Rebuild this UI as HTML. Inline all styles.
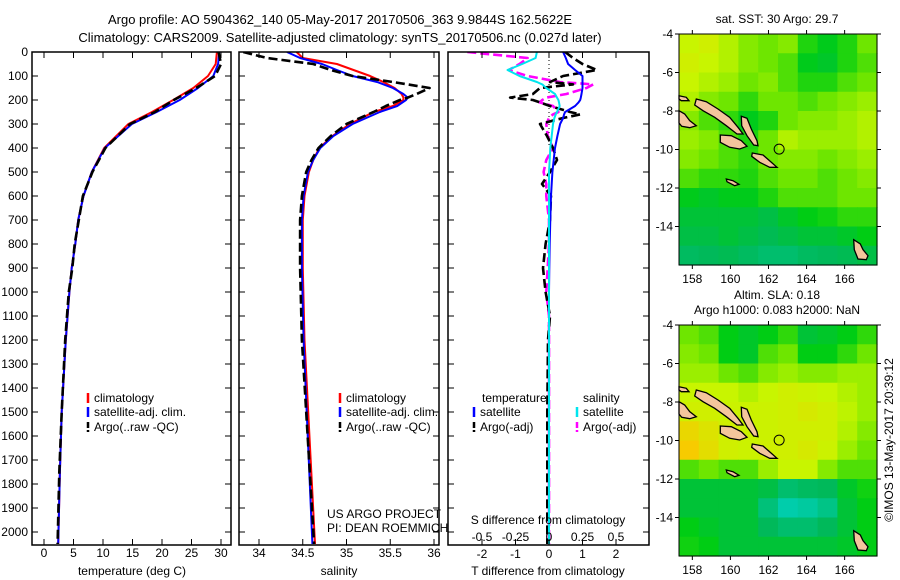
<!DOCTYPE html>
<html><head><meta charset="utf-8"><style>
body{margin:0;background:#fff}
svg{display:block;font-family:"Liberation Sans",sans-serif}
text{font-size:12px;fill:#000}
</style></head><body>
<svg id="fig" width="900" height="580" viewBox="0 0 900 580">
<text x="340" y="24" text-anchor="middle" style="font-size:13px">Argo profile: AO 5904362_140 05-May-2017 20170506_363 9.9844S 162.5622E</text>
<text x="340" y="42" text-anchor="middle" style="font-size:13px">Climatology: CARS2009. Satellite-adjusted climatology: synTS_20170506.nc (0.027d later)</text>
<g id="g1"></g>
<g id="g2"></g>
<g id="g3"></g>
<g id="m1"></g>
<g id="m2"></g>
<text transform="translate(893,440) rotate(-90)" text-anchor="middle">©IMOS 13-May-2017 20:39:12</text>
</svg>
<script>
// ---- data ----
const depthTicks=[0,100,200,300,400,500,600,700,800,900,1000,1100,1200,1300,1400,1500,1600,1700,1800,1900,2000];
const tempTicks=[0,5,10,15,20,25,30];
const salTicks=[34,34.5,35,35.5,36];
const tdTicks=[-2,-1,0,1,2];
const sdTicks=[-0.5,-0.25,0,0.25,0.5];
const tDepth=[0,50,100,150,200,250,300,400,500,600,700,800,900,1000,1200,1500,1750,2050];
const tClim=[29.3,29.1,27.8,25.3,21.9,18.3,14.3,10.2,8.1,6.7,5.8,5.3,4.7,4.3,3.7,3.0,2.7,2.4];
const tSat=[29.7,29.5,28.7,26.1,23.0,19.1,14.9,10.3,8.1,6.7,5.8,5.3,4.7,4.3,3.7,3.0,2.7,2.4];
const tArgo=[29.6,30.0,29.0,25.8,22.0,18.8,14.6,10.4,8.2,6.6,5.9,5.2,4.8,4.2,3.6,3.0,2.6,2.3];
const sDepth=[0,25,50,75,100,125,150,175,190,200,225,250,300,350,400,450,500,600,700,900,1200,2050];
const sClim=[34.43,34.5,34.89,35.08,35.27,35.42,35.55,35.63,35.65,35.65,35.53,35.31,35.04,34.84,34.69,34.62,34.57,34.52,34.5,34.5,34.52,34.64];
const sSat=[34.32,34.47,34.72,34.89,35.07,35.35,35.53,35.65,35.7,35.68,35.58,35.38,35.07,34.85,34.7,34.62,34.56,34.51,34.49,34.49,34.51,34.61];
const sArgo=[33.82,34.09,34.62,34.82,35.07,35.53,35.95,35.8,35.7,35.61,35.45,35.31,35.0,34.82,34.68,34.6,34.54,34.49,34.47,34.47,34.49,34.63];
const dDepth=[0,25,50,75,100,125,135,150,175,190,200,210,225,250,260,275,300,350,400,450,500,550,600,700,800,900,1000,1100,1200,1500,2050];
const dTSat=[0.42,0.5,0.57,0.78,1.0,1.0,1.0,1.0,0.97,0.95,0.93,0.88,0.78,0.48,0.45,0.42,0.33,0.25,0.18,0.14,0.1,0.08,0.06,0.04,0.02,0.01,0,0,0,0,0];
const dTArgo=[0.48,0.72,1.0,1.43,0.42,0.03,0.72,-0.27,-0.48,-1.16,-0.48,-0.27,0.03,0.63,0.93,0.42,-0.27,-0.06,0.12,0.24,0.03,-0.21,0.06,0.03,-0.1,-0.18,-0.1,0.03,-0.03,-0.05,-0.05];
const dSSat=[-0.09,-0.1,-0.2,-0.31,-0.22,-0.09,-0.05,-0.02,0.045,0.06,0.07,0.075,0.08,0.06,0.05,0.04,0.03,0.02,0.01,0.005,0,0,0,0,0,0,0,0,0,0,0];
const dSArgo=[-0.61,-0.16,-0.22,-0.3,-0.16,0.08,0.33,0.28,0.13,-0.02,-0.05,-0.07,0.03,0.07,0.03,0,-0.02,-0.01,0.03,-0.02,-0.04,-0.02,-0.02,0,0,-0.01,-0.02,0,0,0,0];
const lonTicks=[158,160,162,164,166];
const latTicks=[-4,-6,-8,-10,-12,-14];
const sstGrid=[
[.7,.72,.68,.64,.62,.64,.57,.54,.57,.62],
[.72,.7,.68,.64,.62,.6,.54,.52,.57,.6],
[.7,.68,.66,.62,.64,.6,.57,.57,.6,.62],
[.68,.64,.62,.58,.62,.62,.6,.62,.64,.66],
[.64,.6,.58,.54,.57,.62,.64,.64,.66,.68],
[.66,.64,.6,.57,.62,.68,.66,.66,.66,.68],
[.64,.62,.6,.58,.62,.64,.64,.62,.64,.66],
[.6,.58,.58,.57,.6,.62,.62,.6,.62,.64],
[.54,.52,.54,.54,.57,.6,.6,.6,.62,.62],
[.5,.5,.5,.5,.48,.52,.55,.56,.58,.58],
[.48,.48,.5,.48,.46,.48,.5,.5,.52,.55],
[.44,.45,.46,.44,.42,.42,.44,.45,.46,.48]];
const slaGrid=[
[.62,.6,.55,.52,.55,.58,.5,.52,.55,.58],
[.64,.62,.55,.52,.6,.62,.55,.55,.58,.62],
[.66,.66,.62,.6,.64,.66,.64,.64,.66,.66],
[.7,.7,.7,.68,.7,.72,.71,.7,.68,.66],
[.72,.72,.71,.71,.71,.72,.74,.72,.69,.66],
[.8,.76,.72,.71,.71,.72,.72,.72,.68,.64],
[.84,.78,.72,.71,.72,.72,.74,.71,.66,.62],
[.6,.62,.6,.6,.66,.7,.7,.64,.6,.6],
[.5,.5,.5,.5,.48,.42,.44,.45,.52,.56],
[.5,.5,.5,.5,.4,.32,.34,.38,.5,.55],
[.55,.52,.5,.5,.45,.42,.42,.45,.5,.55],
[.56,.55,.5,.5,.5,.5,.5,.5,.52,.55]];
const argoLon=162.56, argoLat=-9.98;

// ---- helpers ----
const NS="http://www.w3.org/2000/svg";
function mk(parent,tag,attrs){const e=document.createElementNS(NS,tag);for(const k in attrs)e.setAttribute(k,attrs[k]);parent.appendChild(e);return e;}
const Y=d=>52+d*0.24;
const PT=t=>44+t*5.9, PS=s=>259+(s-34)*87.5, PDT=v=>549+v*33.5, PDS=v=>549+v*134;
const TOP=52,BOT=545;

function frame(g,x0,x1,labels){
  const r=mk(g,'rect',{x:x0,y:TOP,width:x1-x0,height:BOT-TOP,fill:'none',stroke:'#000','stroke-width':1.5});
  
  
  depthTicks.forEach(d=>{
    mk(g,'line',{x1:x0,x2:x0+6,y1:Y(d),y2:Y(d),stroke:'#000'});
    mk(g,'line',{x1:x1-6,x2:x1,y1:Y(d),y2:Y(d),stroke:'#000'});
    if(labels){const t=mk(g,'text',{x:x0-4,y:Y(d)+4,'text-anchor':'end'});t.textContent=d;
      
      }
  });
}
function xticks(g,ticks,f,y,labels){
  ticks.forEach(v=>{const x=f(v);
    mk(g,'line',{x1:x,x2:x,y1:TOP,y2:TOP+6,stroke:'#000'});
    mk(g,'line',{x1:x,x2:x,y1:BOT-6,y2:BOT,stroke:'#000'});
    if(labels){const t=mk(g,'text',{x:x,y:y,'text-anchor':'middle'});t.textContent=v;
      
      }
  });
}
function line(g,vals,depths,f,color,dashed,name){
  const pts=vals.map((v,i)=>f(v).toFixed(1)+','+Y(depths[i]).toFixed(1)).join(' ');
  const p=mk(g,'polyline',{points:pts,fill:'none',stroke:color,'stroke-width':dashed?2.6:2,'stroke-dasharray':dashed?'9 4':'none','stroke-linejoin':'round'});
  
  
}
function txt(g,x,y,s,anchor,name){const t=mk(g,'text',{x:x,y:y,'text-anchor':anchor||'start'});t.textContent=s;
  
  return t;}
function legend(g,x,y,color,s,dashed){
  mk(g,'line',{x1:x,x2:x,y1:y-9,y2:y+1,stroke:color,'stroke-width':2.5,'stroke-dasharray':dashed?'6 2':'none'});
  txt(g,x+6,y,s,'start','legend-entry');
}

// ---- panel 1 ----
const g1=document.getElementById('g1');
const c1=mk(g1,'g',{'clip-path':'url(#cp1)'});
mk(mk(g1,'clipPath',{id:'cp1'}),'rect',{x:32,y:TOP,width:199,height:BOT-TOP});
line(c1,tClim,tDepth,PT,'#ff0000',false,'temperature-climatology-line');
line(c1,tSat,tDepth,PT,'#0000ff',false,'temperature-satellite-line');
line(c1,tArgo,tDepth,PT,'#000',true,'temperature-argo-line');
frame(g1,32,231,true);
xticks(g1,tempTicks,PT,557,true);
txt(g1,132,575,'temperature (deg C)','middle','temperature-axis-title');
legend(g1,88,402,'#ff0000','climatology');
legend(g1,88,416,'#0000ff','satellite-adj. clim.');
legend(g1,88,431,'#000','Argo(..raw -QC)',true);

// ---- panel 2 ----
const g2=document.getElementById('g2');
const c2=mk(g2,'g',{'clip-path':'url(#cp2)'});
mk(mk(g2,'clipPath',{id:'cp2'}),'rect',{x:239,y:TOP,width:200,height:BOT-TOP});
line(c2,sClim,sDepth,PS,'#ff0000',false,'salinity-climatology-line');
line(c2,sSat,sDepth,PS,'#0000ff',false,'salinity-satellite-line');
line(c2,sArgo,sDepth,PS,'#000',true,'salinity-argo-line');
frame(g2,239,439,false);
xticks(g2,salTicks,PS,557,true);
txt(g2,339,575,'salinity','middle','salinity-axis-title');
legend(g2,340,402,'#ff0000','climatology');
legend(g2,340,416,'#0000ff','satellite-adj. clim.');
legend(g2,340,431,'#000','Argo(..raw -QC)',true);
txt(g2,327,518,'US ARGO PROJECT','start','project-label');
txt(g2,327,532,'PI: DEAN ROEMMICH','start','pi-label');

// ---- panel 3 ----
const g3=document.getElementById('g3');
const c3=mk(g3,'g',{'clip-path':'url(#cp3)'});
mk(mk(g3,'clipPath',{id:'cp3'}),'rect',{x:448,y:TOP,width:201,height:BOT-TOP});
mk(c3,'line',{x1:PDT(0),x2:PDT(0),y1:TOP,y2:Y(400),stroke:'#000','stroke-dasharray':'1 3'});
line(c3,dSArgo,dDepth,PDS,'#ff00ff',true,'salinity-diff-argo-line');
line(c3,dTArgo,dDepth,PDT,'#000',true,'temperature-diff-argo-line');
line(c3,dTSat,dDepth,PDT,'#0000ff',false,'temperature-diff-satellite-line');
line(c3,dSSat,dDepth,PDS,'#00e5ee',false,'salinity-diff-satellite-line');
frame(g3,448,649,false);
xticks(g3,tdTicks,PDT,558,true);
sdTicks.forEach(v=>txt(g3,PDS(v),541,v,'middle','s-diff-tick-label'));
txt(g3,548,524,'S difference from climatology','middle','s-diff-axis-title');
txt(g3,548,575,'T difference from climatology','middle','t-diff-axis-title');
txt(g3,482,402,'temperature','start','legend-header-temperature');
txt(g3,583,402,'salinity','start','legend-header-salinity');
legend(g3,474,416,'#0000ff','satellite');
legend(g3,474,431,'#000','Argo(-adj)',true);
legend(g3,577,416,'#00e5ee','satellite');
legend(g3,577,431,'#ff00ff','Argo(-adj)',true);

// ---- maps ----
const stops=[[0,[20,40,220]],[0.25,[0,215,215]],[0.45,[0,185,90]],[0.55,[0,205,20]],[0.62,[110,230,0]],[0.7,[200,245,0]],[0.85,[250,200,0]],[1,[250,120,0]]];
function cmap(v){for(let i=1;i<stops.length;i++){if(v<=stops[i][0]){const a=stops[i-1],b=stops[i],t=(v-a[0])/(b[0]-a[0]);
  return 'rgb('+a[1].map((c,j)=>Math.round(c+(b[1][j]-c)*t)).join(',')+')';}}return 'rgb(250,120,0)';}
const LON0=157.3,LON1=167.7,LAT0=-4,LAT1=-16;
const islands=[
 [[140,300],[170,308],[205,330],[240,355],[265,385],[280,405],[262,405],[230,380],[195,355],[160,335],[135,318]],
 [[275,352],[292,358],[305,390],[322,425],[325,440],[312,438],[292,410],[276,380]],
 [[212,408],[245,410],[275,425],[292,442],[270,450],[240,445],[212,430]],
 [[308,462],[340,468],[365,490],[382,505],[360,505],[330,490],[306,472]],
 [[88,335],[105,345],[120,365],[140,380],[120,386],[96,382],[88,372]],
 [[230,540],[250,545],[268,556],[255,560],[232,548]],
 [[612,722],[632,735],[640,752],[655,770],[650,782],[625,780],[614,752]],
 [[88,290],[110,295],[118,305],[95,305],[88,300]]];
function drawMap(id,grid,y0,titleLines,lonLabelY){
  const g=document.getElementById(id);
  const x0=679,x1=877,y1=y0+231,w=x1-x0,h=y1-y0;
  const X=lon=>x0+(lon-LON0)/(LON1-LON0)*w, YY=lat=>y0+(lat-LAT0)/(LAT1-LAT0)*h;
  const rows=grid.length,cols=grid[0].length,cw=w/cols,ch=h/rows;
  grid.forEach((row,r)=>row.forEach((v,c)=>{
    const cell=mk(g,'rect',{x:(x0+c*cw).toFixed(2),y:(y0+r*ch).toFixed(2),width:(cw+0.6).toFixed(2),height:(ch+0.6).toFixed(2),fill:cmap(v)});
    
    
  }));
  islands.forEach(poly=>{
    const p=mk(g,'polygon',{points:poly.map(q=>(x0+(q[0]-88)/3).toFixed(1)+','+(y0+(q[1]-105)/3).toFixed(1)).join(' '),fill:'#f4c59c',stroke:'#000','stroke-width':1.3});
    
    
  });
  const c=mk(g,'circle',{cx:X(argoLon),cy:YY(argoLat),r:5,fill:'none',stroke:'#000','stroke-width':1});
  
  
  const f=mk(g,'rect',{x:x0,y:y0,width:w,height:h,fill:'none',stroke:'#000','stroke-width':1});
  
  
  lonTicks.forEach(l=>{const x=X(l);mk(g,'line',{x1:x,x2:x,y1:y0-4,y2:y0,stroke:'#000'});mk(g,'line',{x1:x,x2:x,y1:y1,y2:y1+4,stroke:'#000'});
    txt(g,x,lonLabelY,l,'middle','longitude-tick-label');});
  latTicks.forEach(l=>{const y=YY(l);mk(g,'line',{x1:x0-4,x2:x0,y1:y,y2:y,stroke:'#000'});mk(g,'line',{x1:x1,x2:x1+4,y1:y,y2:y,stroke:'#000'});
    txt(g,673,y+4,l,'end','latitude-tick-label');});
  titleLines.forEach((s,i)=>txt(g,777,y0-11-(titleLines.length-1-i)*15,s,'middle','map-title'));
}
drawMap('m1',sstGrid,34,['sat. SST: 30 Argo: 29.7'],283);
drawMap('m2',slaGrid,325,['Altim. SLA: 0.18','Argo h1000: 0.083 h2000: NaN'],574);
</script>
</body></html>
